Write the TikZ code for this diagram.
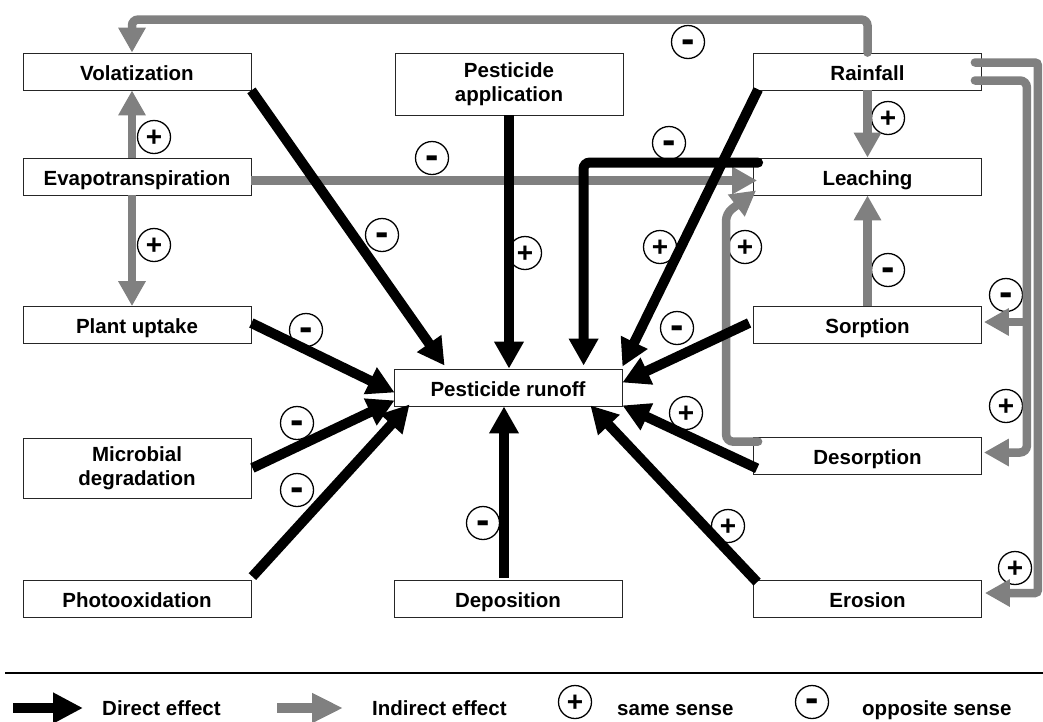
\documentclass[tikz,border=0pt]{standalone}
\usepackage{fontspec}
\setmainfont{Liberation Sans}
\usetikzlibrary{arrows.meta,calc}
\definecolor{ind}{HTML}{808080}
\newcommand{\plussign}{{\fontsize{28}{30}\selectfont\bfseries +}}
\newcommand{\minussign}{\scalebox{1}[2.4]{\bfseries\textendash}}
\begin{document}
\begin{tikzpicture}[x=1pt,y=-1pt,
  lab/.style={font=\fontsize{20.5}{24}\selectfont\bfseries},
  boxbase/.style={lab,draw=black!85,line width=0.8pt,minimum width=228pt,minimum height=37pt,inner sep=0pt,align=center,fill=white},
  box/.style={boxbase,text height=17pt,text depth=0pt},
  sign/.style={lab,circle,draw,line width=1.3pt,minimum size=33pt,inner sep=0pt,fill=white},
  plus/.style={sign,text height=19pt,text depth=0pt},
  minus/.style={sign,text height=27pt,text depth=0pt},
  direct/.style={draw=black,line width=10pt,-{Triangle[length=27pt,width=28pt]}},
  indirect/.style={draw=ind,line width=8.5pt,-{Triangle[length=25pt,width=26pt]}},
  legtext/.style={lab,anchor=base west,inner sep=0pt}]
\useasboundingbox (0,0) rectangle (1043,721);

% boxes
\node[box] (vol) at (137,71.5) {Volatization};
\node[box] (evap) at (137,176.5) {Evapotranspiration};
\node[box] (plant) at (137,325) {Plant uptake};
\node[boxbase,minimum height=60pt] (micro) at (137,468) {Microbial\\degradation};
\node[box] (photo) at (137,598.5) {Photooxidation};
\node[boxbase,minimum height=62pt] (app) at (509,84) {Pesticide\\application};
\node[box] (run) at (508,387.5) {Pesticide runoff};
\node[box] (dep) at (508,598.5) {Deposition};
\node[box] (rain) at (867.5,71.5) {Rainfall};
\node[box] (leach) at (867.5,176.5) {Leaching};
\node[box] (sorp) at (867.5,325) {Sorption};
\node[box] (desorp) at (867.5,455.5) {Desorption};
\node[box] (eros) at (867.5,599) {Erosion};

% signs
\node[minus] (c1) at (688,42) {\minussign};
\node[plus] (c2) at (154,137) {\plussign};
\node[minus] (c3) at (432,158) {\minussign};
\node[minus] (c4) at (669,143) {\minussign};
\node[plus] (c5) at (888,118) {\plussign};
\node[minus] (c6) at (382,235) {\minussign};
\node[plus] (c7) at (154,245) {\plussign};
\node[plus] (c8) at (525,253) {\plussign};
\node[plus] (c9) at (660,247) {\plussign};
\node[plus] (c10) at (745,247) {\plussign};
\node[minus] (c11) at (888,270) {\minussign};
\node[minus] (c12) at (1006,295) {\minussign};
\node[minus] (c13) at (306,330) {\minussign};
\node[minus] (c14) at (677,328) {\minussign};
\node[minus] (c15) at (297,423) {\minussign};
\node[plus] (c16) at (686,413) {\plussign};
\node[plus] (c17) at (1006,406) {\plussign};
\node[minus] (c18) at (297,490) {\minussign};
\node[plus] (c19) at (728,526) {\plussign};
\node[minus] (c20) at (483,523) {\minussign};
\node[plus] (c21) at (1015,568) {\plussign};

% indirect effects (grey)
\draw[indirect,line cap=round,rounded corners=6pt] (rain.north) -- ($(rain.north)+(0,-33)$) -| ($(vol.north)+(-5,0)$);
\draw[indirect] ($(evap.north)+(-5,0)$) -- ($(vol.south)+(-5,0)$);
\draw[indirect] ($(evap.south)+(-5,0)$) -- ($(plant.north)+(-5,0)$);
\draw[indirect] ($(evap.east)+(0,4)$) -- ($(leach.west)+(4,4)$);
\draw[indirect] (rain.south) -- (leach.north);
\draw[indirect] (sorp.north) -- (leach.south);
\draw[indirect,line cap=round,rounded corners=7pt] ($(desorp.north west)+(5,5)$) -- ($(desorp.north west)+(-27,5)$) -- ($(leach.south west)+(-27,18)$) -- ($(leach.south west)+(3,-5)$);
\draw[indirect,line cap=round,rounded corners=3pt] ($(rain.east)+(-7,-9)$) -| ($(eros.east)+(56,-6)$) -- ($(eros.east)+(3,-6)$);
\draw[indirect,line cap=round,rounded corners=7pt] ($(rain.east)+(-7,9)$) -| ($(desorp.east)+(45,-3)$) -- ($(desorp.east)+(2,-3)$);
\draw[indirect] ($(sorp.east)+(45,-3)$) -- ($(sorp.east)+(2,-3)$);

% direct effects (black)
\draw[direct] (vol.south east) -- ($(run.north west)+(51,-3)$);
\draw[direct] (app.south) -- (app.south |- run.north);
\draw[direct,line cap=round,rounded corners=6pt] ($(leach.north west)+(5,5)$) -| ($(run.north west)+(190,-3)$);
\draw[direct] ($(rain.south west)+(5,-1)$) -- ($(run.north east)+(0,-2)$);
\draw[direct] ($(sorp.west)+(-4,-2)$) -- ($(run.east)+(0,-5)$);
\draw[direct] ($(desorp.south west)+(4,-6)$) -- ($(run.south east)+(0,-1)$);
\draw[direct] ($(eros.north west)+(4,2)$) -- ($(run.south east)+(-32,-1)$);
\draw[direct] ($(dep.north)+(-4,-2)$) -- ($(run.south)+(-4,0)$);
\draw[direct] ($(photo.north east)+(1,-3)$) -- ($(run.south west)+(16,-2)$);
\draw[direct] ($(micro.east)+(1,0)$) -- ($(run.south west)+(1,-6)$);
\draw[direct] ($(plant.east)+(0,-2)$) -- ($(run.west)+(1,5)$);

% legend
\coordinate (r1) at (5,673);
\coordinate (r2) at (1043,673);
\draw[line width=2.5pt] (r1) -- (r2);
\coordinate (la1) at (13,708);
\coordinate (la2) at (83,708);
\draw[line width=10pt,-{Triangle[length=30pt,width=29pt]}] (la1) -- (la2);
\node[legtext] (t1) at (102,715) {Direct effect};
\coordinate (lb1) at (277,708);
\coordinate (lb2) at (343,708);
\draw[draw=ind,line width=10pt,-{Triangle[length=31pt,width=28pt]}] (lb1) -- (lb2);
\node[legtext] (t2) at (372,715) {Indirect effect};
\node[plus,minimum size=33pt] (lp) at (575,702) {\plussign};
\node[legtext] (t3) at (617,715) {same sense};
\node[minus,minimum size=33pt,text height=25pt] (lm) at (812,702) {\minussign};
\node[legtext] (t4) at (862,715) {opposite sense};
\end{tikzpicture}
\end{document}
